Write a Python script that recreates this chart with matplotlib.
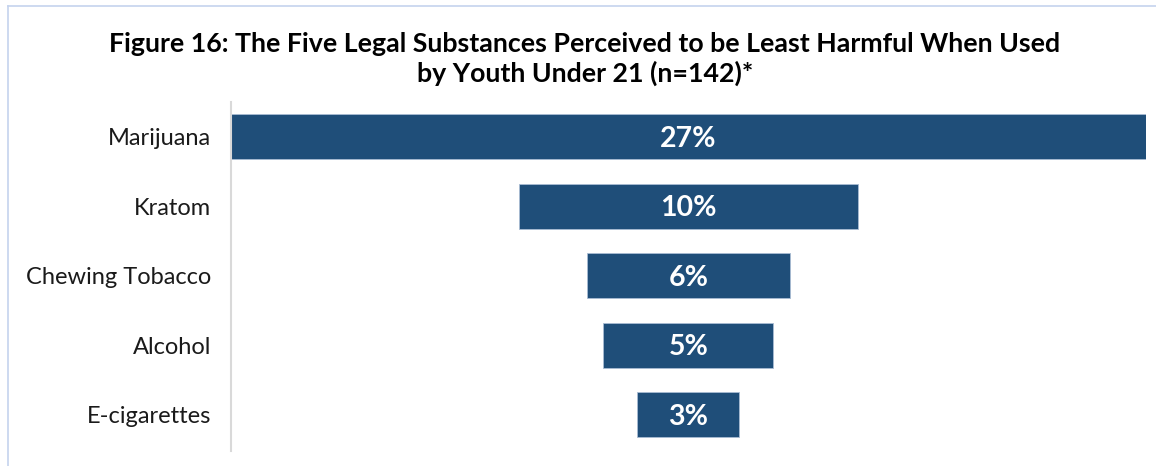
import matplotlib
matplotlib.use("Agg")
import matplotlib.pyplot as plt
from matplotlib.lines import Line2D

categories = ["Marijuana", "Kratom", "Chewing Tobacco", "Alcohol", "E-cigarettes"]
values = [27, 10, 6, 5, 3]
value_labels = ["27%", "10%", "6%", "5%", "3%"]
title = ("Figure 16: The Five Legal Substances Perceived to be Least Harmful When Used\n"
         "by Youth Under 21 (n=142)*")

plt.rcParams["font.family"] = ["Lato", "DejaVu Sans"]

W, H = 1156, 466
fig = plt.figure(figsize=(W / 100, H / 100), dpi=100)
fig.patch.set_facecolor("white")

# frame lines along the top and left edge
fig.add_artist(Line2D([8 / W, 1], [1 - 6 / H, 1 - 6 / H], color="#C5D3EE", lw=1.2))
fig.add_artist(Line2D([8 / W, 8 / W], [0, 1 - 6 / H], color="#C5D3EE", lw=1.2))

ax = fig.add_axes([230.5 / W, 1 - 451 / H, 915.5 / W, (451 - 102) / H])

ypos = list(range(len(categories)))
lefts = [-v / 2 for v in values]
ax.barh(ypos, values, left=lefts, height=0.65, color="#1F4E79",
        edgecolor="#A9BCD3", linewidth=0.6)

for y, v, lab in zip(ypos, values, value_labels):
    ax.text(0, y + 0.03, lab, ha="center", va="center", color="white",
            fontsize=20.5, fontweight="bold")

ax.set_xlim(-13.5, 13.5)
ax.set_ylim(4.52, -0.5)
ax.set_yticks(ypos)
ax.set_yticklabels(categories, fontsize=17, color="#1a1a1a")
ax.tick_params(axis="y", length=0, pad=14)
ax.set_xticks([])
for s in ["top", "right", "bottom"]:
    ax.spines[s].set_visible(False)
ax.spines["left"].set_color("#D9D9D9")
ax.spines["left"].set_linewidth(1.5)

fig.text(585 / W, 1 - 59 / H, title, ha="center", va="center",
         fontsize=19.3, fontweight="bold", color="black", linespacing=1.2)

fig.savefig("out.png", dpi=100)
